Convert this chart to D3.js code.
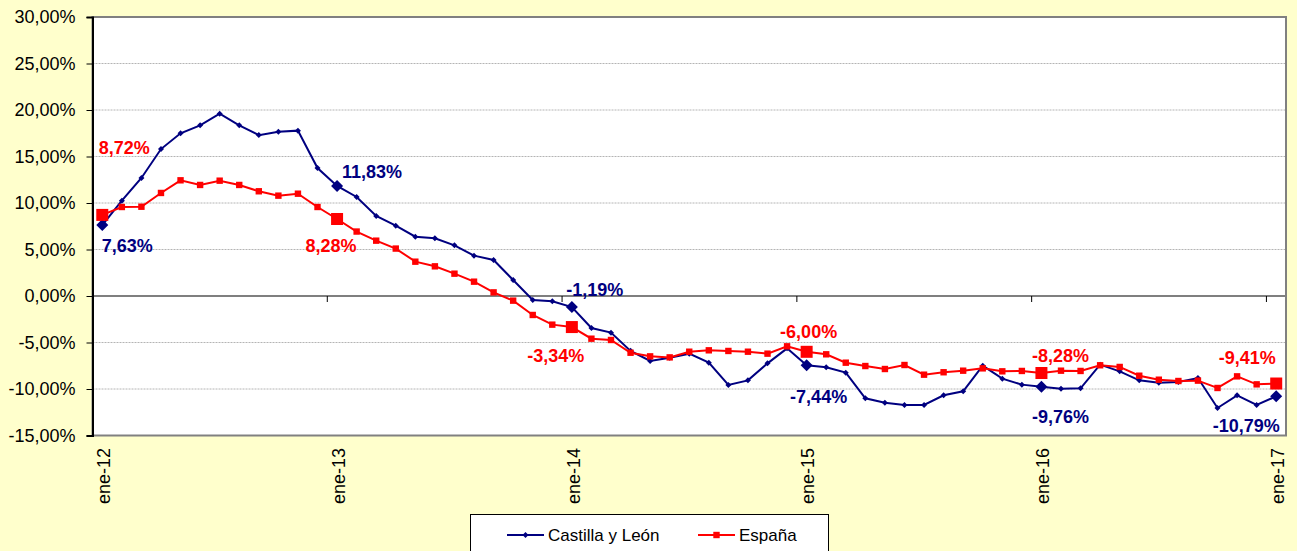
<!DOCTYPE html>
<html>
<head>
<meta charset="utf-8">
<script src="https://cdn.jsdelivr.net/npm/d3@7"></script>
<style>
  body { margin: 0; background: #ffffcc; }
  svg { display: block; font-family: "Liberation Sans", Arial, sans-serif; }
  .grid line { stroke: #b4b4b4; stroke-dasharray: 2,1; }
</style>
</head>
<body>
<div id="chart"></div>
<script>
// monthly values, ene-12 .. ene-17
var castilla = [7.63, 10.25, 12.69, 15.8, 17.5, 18.35, 19.6, 18.35, 17.3, 17.67, 17.78,
  13.76, 11.83, 10.65, 8.6, 7.56, 6.38, 6.2, 5.45, 4.34, 3.87,
  1.72, -0.43, -0.57, -1.19, -3.44, -3.94, -5.9, -6.99, -6.63, -6.2,
  -7.17, -9.57, -9.07, -7.24, -5.63, -7.44, -7.67, -8.24, -11.0, -11.47,
  -11.72, -11.72, -10.68, -10.25, -7.49, -8.89, -9.53, -9.76, -9.96, -9.93,
  -7.38, -8.1, -9.07, -9.32, -9.25, -8.82, -12.04, -10.68, -11.72, -10.79];
var espana = [8.72, 9.57, 9.6, 11.08, 12.44, 11.94, 12.4, 11.94, 11.26, 10.79, 11.0,
  9.57, 8.28, 6.93, 5.95, 5.1, 3.69, 3.19, 2.4, 1.54, 0.39,
  -0.5, -2.04, -3.08, -3.34, -4.59, -4.73, -6.1, -6.49, -6.6, -5.99,
  -5.84, -5.91, -5.99, -6.2, -5.41, -6.0, -6.27, -7.17, -7.53, -7.85,
  -7.42, -8.46, -8.2, -8.03, -7.78, -8.1, -8.06, -8.28, -8.03, -8.06,
  -7.45, -7.63, -8.57, -9.0, -9.14, -9.1, -9.89, -8.64, -9.5, -9.41];
var tickLabels = ["ene-12", "ene-13", "ene-14", "ene-15", "ene-16", "ene-17"];
var yTicks = [-15, -10, -5, 0, 5, 10, 15, 20, 25, 30];
var labelled = [0, 12, 24, 36, 48, 60];

var W = 1297, H = 551;
var plot = {left: 92.5, right: 1286, top: 17, bottom: 435.5};

// spanish number style with a plain hyphen as minus
var es = d3.formatLocale({decimal: ",", thousands: ".", grouping: [3], currency: ["", " €"], minus: "-"});
var pct = function(d) { return es.format(".2f")(d) + "%"; };

var svg = d3.select("#chart").append("svg")
    .attr("width", W)
    .attr("height", H);

var x = d3.scalePoint()
    .domain(d3.range(castilla.length))
    .range([plot.left, plot.right])
    .padding(0.5);
var step = x.step();

var y = d3.scaleLinear()
    .domain([-15, 30])
    .range([plot.bottom, plot.top]);

// plot area
svg.append("rect")
    .attr("x", plot.left).attr("y", plot.top)
    .attr("width", plot.right - plot.left)
    .attr("height", plot.bottom - plot.top)
    .attr("fill", "#fff")
    .attr("stroke", "#808080")
    .attr("stroke-width", 2);

// gridlines
svg.append("g")
    .attr("class", "grid")
    .selectAll("line")
    .data(yTicks.filter(function(d) { return d !== 0 && d !== 30 && d !== -15; }))
    .enter().append("line")
      .attr("x1", plot.left).attr("x2", plot.right - 1)
      .attr("y1", function(d) { return y(d); })
      .attr("y2", function(d) { return y(d); });

// y axis
var yAxis = svg.append("g")
    .attr("transform", "translate(" + plot.left + ",0)")
    .call(d3.axisLeft(y).tickValues(yTicks).tickSize(6).tickPadding(11).tickFormat(pct));
yAxis.select(".domain").attr("stroke", "#000").attr("stroke-width", 2);
yAxis.selectAll(".tick line").attr("stroke", "#000");
yAxis.selectAll(".tick text")
    .style("font-size", "18px")
    .attr("fill", "#000");

// x axis line at 0 with ticks between categories
svg.append("line")
    .attr("x1", plot.left).attr("x2", plot.right - 1)
    .attr("y1", y(0)).attr("y2", y(0))
    .attr("stroke", "#000").attr("stroke-width", 1.2);
svg.append("g")
    .selectAll("line")
    .data(labelled.slice(1))
    .enter().append("line")
      .attr("x1", function(d) { return x(d) - step / 2; })
      .attr("x2", function(d) { return x(d) - step / 2; })
      .attr("y1", y(0)).attr("y2", y(0) + 6)
      .attr("stroke", "#000");

// category labels at the bottom
svg.append("g")
    .selectAll("text")
    .data(labelled)
    .enter().append("text")
      .attr("transform", function(d) { return "translate(" + (x(d) + 1.5) + ",448) rotate(-90)"; })
      .attr("text-anchor", "end")
      .attr("dy", "0.35em")
      .style("font-size", "18px")
      .text(function(d, i) { return tickLabels[i]; });

var line = d3.line()
    .x(function(d, i) { return x(i); })
    .y(function(d) { return y(d); });

var series = [
  {name: "Castilla y León", values: castilla, color: "#000080", shape: "diamond"},
  {name: "España", values: espana, color: "#ff0000", shape: "square"}
];

function marker(sel, s, big) {
  if (s.shape === "diamond") {
    var r = big ? 6 : 3;
    sel.append("path")
      .attr("d", "M0," + (-r) + "L" + r + ",0L0," + r + "L" + (-r) + ",0Z")
      .attr("fill", s.color);
  } else {
    var h = big ? 6 : 3.2;
    sel.append("rect")
      .attr("x", -h).attr("y", -h)
      .attr("width", 2 * h).attr("height", 2 * h)
      .attr("fill", s.color);
  }
}

series.forEach(function(s) {
  var g = svg.append("g");
  g.append("path")
    .datum(s.values)
    .attr("fill", "none")
    .attr("stroke", s.color)
    .attr("stroke-width", 2)
    .attr("d", line);
  g.selectAll("g.pt")
    .data(s.values)
    .enter().append("g")
      .attr("class", "pt")
      .attr("transform", function(d, i) { return "translate(" + x(i) + "," + y(d) + ")"; })
      .each(function(d, i) { marker(d3.select(this), s, labelled.indexOf(i) >= 0); });
});

// data label placement (pixel offsets from the marker)
var labelOffsets = {
  "Castilla y León": [[25, 21], [35, -14], [23, -17], [12, 32], [19, 30], [-30, 29]],
  "España": [[22, -67], [-6, 27], [-16, 29], [2, -20], [19, -17], [-29, -26]]
};

series.forEach(function(s) {
  svg.append("g")
    .selectAll("text")
    .data(labelled)
    .enter().append("text")
      .attr("x", function(d, k) { return x(d) + labelOffsets[s.name][k][0]; })
      .attr("y", function(d, k) { return y(s.values[d]) + labelOffsets[s.name][k][1]; })
      .attr("dy", "0.35em")
      .attr("text-anchor", "middle")
      .attr("fill", s.color)
      .style("font-size", "18px")
      .style("font-weight", "bold")
      .text(function(d) { return pct(s.values[d]); });
});

// legend
var legend = svg.append("g");
legend.append("rect")
    .attr("x", 470.5).attr("y", 514.5)
    .attr("width", 358).attr("height", 50)
    .attr("fill", "#fff")
    .attr("stroke", "#000");
var legendX = [507, 698];
series.forEach(function(s, i) {
  var lg = legend.append("g").attr("transform", "translate(" + legendX[i] + ",535)");
  lg.append("line")
    .attr("x1", 0).attr("x2", 37)
    .attr("stroke", s.color).attr("stroke-width", 2);
  marker(lg.append("g").attr("transform", "translate(18.5,0)"), s, false);
  lg.append("text")
    .attr("x", 41)
    .attr("dy", "0.35em")
    .style("font-size", "17px")
    .text(s.name);
});
</script>
</body>
</html>
